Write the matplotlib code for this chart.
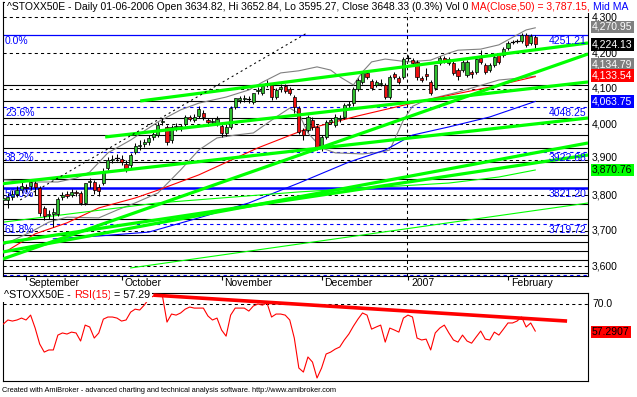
import matplotlib
matplotlib.use('Agg')
import matplotlib.pyplot as plt
from matplotlib.patches import Rectangle

plt.rcParams['font.family'] = ['Liberation Sans', 'DejaVu Sans']

W, H, DPI = 637, 397, 100
PX = 72.0 / DPI  # points per pixel

# ---------------- data ----------------
month_labels = ['September', 'October', 'November', 'December', '2007', 'February']
month_bars = [5, 26, 48, 70, 89, 111]
year_sep_bar = 89

opens = [3786, 3786, 3795, 3803, 3814, 3823, 3826, 3834, 3820, 3764,
         3744, 3747, 3747, 3795, 3803, 3800, 3809, 3806, 3778, 3837,
         3837, 3823, 3834, 3876, 3899, 3905, 3902, 3888, 3885, 3921,
         3938, 3944, 3950, 3964, 3969, 4006, 3992, 3955, 3992, 3995,
         4000, 4020, 4011, 4023, 4031, 4011, 4006, 4003, 3995, 3975,
         3992, 4048, 4068, 4071, 4071, 4062, 4093, 4088, 4113, 4110,
         4076, 4099, 4107, 4099, 4076, 4045, 3983, 3983, 4011, 3992,
         3936, 3964, 4006, 3997, 4014, 4020, 4054, 4059, 4099, 4118,
         4144, 4121, 4110, 4113, 4110, 4076, 4141, 4130, 4133, 4186,
         4180, 4175, 4130, 4141, 4118, 4101, 4172, 4186, 4172, 4172,
         4152, 4152, 4138, 4147, 4147, 4186, 4166, 4152, 4166, 4194,
         4194, 4214, 4231, 4234, 4234, 4251, 4228, 4245]
highs = [3803, 3806, 3814, 3826, 3837, 3831, 3843, 3840, 3826, 3769,
         3758, 3764, 3795, 3809, 3812, 3817, 3814, 3812, 3834, 3848,
         3843, 3831, 3876, 3907, 3913, 3916, 3913, 3899, 3919, 3947,
         3955, 3958, 3969, 3980, 4006, 4017, 3997, 3997, 4003, 4000,
         4026, 4026, 4028, 4051, 4040, 4017, 4017, 4023, 4003, 4000,
         4051, 4073, 4079, 4082, 4079, 4088, 4104, 4113, 4124, 4116,
         4101, 4113, 4113, 4104, 4082, 4051, 3989, 4026, 4020, 3997,
         3969, 4011, 4017, 4028, 4026, 4059, 4065, 4104, 4130, 4149,
         4152, 4127, 4124, 4127, 4116, 4138, 4147, 4135, 4189, 4194,
         4186, 4180, 4135, 4158, 4124, 4166, 4192, 4192, 4189, 4178,
         4158, 4180, 4180, 4152, 4189, 4209, 4172, 4172, 4194, 4200,
         4217, 4234, 4237, 4240, 4256, 4256, 4253, 4251]
lows = [3772, 3764, 3786, 3795, 3806, 3809, 3814, 3800, 3741, 3730,
        3733, 3710, 3741, 3786, 3792, 3795, 3798, 3772, 3772, 3820,
        3803, 3798, 3829, 3871, 3890, 3896, 3885, 3865, 3876, 3916,
        3927, 3935, 3941, 3955, 3964, 3997, 3941, 3947, 3981, 3981,
        3995, 4009, 4006, 4017, 4011, 3995, 3997, 3995, 3964, 3966,
        3986, 4042, 4059, 4062, 4059, 4057, 4085, 4082, 4104, 4068,
        4071, 4090, 4087, 4082, 4031, 3972, 3955, 3978, 3983, 3927,
        3924, 3958, 4000, 3992, 4006, 4014, 4045, 4051, 4093, 4113,
        4127, 4096, 4104, 4107, 4071, 4071, 4127, 4113, 4127, 4177,
        4166, 4124, 4118, 4124, 4082, 4096, 4166, 4172, 4166, 4138,
        4124, 4147, 4133, 4130, 4141, 4169, 4141, 4147, 4161, 4169,
        4189, 4209, 4225, 4228, 4228, 4217, 4223, 4214]
closes = [3792, 3795, 3803, 3814, 3826, 3820, 3837, 3823, 3750, 3741,
          3747, 3753, 3789, 3800, 3798, 3809, 3806, 3778, 3834, 3840,
          3814, 3812, 3868, 3899, 3902, 3905, 3893, 3876, 3913, 3938,
          3941, 3950, 3961, 3972, 3997, 4009, 3950, 3992, 3995, 3992,
          4020, 4014, 4020, 4042, 4020, 4006, 4009, 4014, 3975, 3992,
          4045, 4073, 4073, 4073, 4070, 4087, 4096, 4107, 4116, 4076,
          4096, 4104, 4093, 4088, 4048, 3978, 3969, 4020, 3992, 3936,
          3964, 4006, 4011, 4020, 4017, 4054, 4057, 4099, 4124, 4144,
          4133, 4102, 4118, 4116, 4076, 4133, 4133, 4118, 4183, 4186,
          4172, 4133, 4124, 4135, 4088, 4166, 4186, 4178, 4183, 4144,
          4135, 4175, 4175, 4141, 4183, 4175, 4147, 4166, 4189, 4175,
          4211, 4228, 4231, 4233, 4251, 4223, 4248, 4224.13]

ma50_bars = [0, 7, 14, 21, 29, 34, 43, 56, 66, 78, 93, 107, 117]
ma50_vals = [3637, 3691, 3722, 3764, 3792, 3814, 3857, 3933, 3983, 4023, 4068, 4104, 4133.54]

blue_bars = [11, 21, 32, 43, 54, 65, 76, 84, 90, 98, 107, 117]
blue_vals = [3677, 3685, 3696, 3736, 3778, 3834, 3893, 3927, 3969, 3992, 4020, 4063.75]

bb_up_bars = [0, 7, 12, 16, 19, 23, 28, 34, 39, 43, 49, 54, 57, 61, 65, 69, 72, 74, 77, 79,
              81, 84, 89, 94, 98, 100, 105, 109, 111, 115, 117]
bb_up_vals = [3843, 3837, 3837, 3848, 3865, 3919, 3955, 4006, 4040, 4059, 4076, 4096, 4118, 4144,
              4150, 4161, 4152, 4133, 4110, 4147, 4175, 4183, 4175, 4180, 4200, 4208, 4211, 4223,
              4237, 4265, 4270.95]

bb_lo_bars = [0, 6, 10, 14, 21, 25, 29, 34, 39, 43, 47, 51, 55, 60, 63, 65, 67, 70, 73, 79,
              83, 85, 88, 90, 93, 100, 109, 114, 117]
bb_lo_vals = [3660, 3696, 3724, 3738, 3736, 3758, 3778, 3806, 3871, 3927, 3961, 3969, 3975, 4020,
              4045, 4030, 3975, 3933, 3919, 3916, 3921, 3927, 4011, 4050, 4068, 4090, 4124, 4130,
              4134.79]

green_ma_bars = [0, 34, 65, 98, 109, 117]
green_ma_vals = [3724, 3778, 3809, 3834, 3851, 3870.76]

# trendlines (bar, price) -> (bar, price)
trend_x0 = [30.1, -0.7, -0.1, 22.4, -0.1, -0.1, 27.9]
trend_y0 = [4065.0, 3831.4, 3620.3, 3963.7, 3640.0, 3665.3, 3594.9]
trend_x1 = [128.6, 128.6, 128.6, 128.6, 128.6, 128.6, 128.6]
trend_y1 = [4228.2, 4017.1, 4197.3, 4118.5, 3946.8, 3913.0, 3777.9]
trend_w = [2.3, 2.3, 2.3, 2.3, 2.3, 2.3, 0.8]

diag_bars = [3.7, 66.8]
diag_vals = [3786.3, 4256.4]

level_lines = [4110.0, 4065.0, 4017.1, 3969.3, 3932.7, 3893.3, 3845.5, 3775.1,
               3732.8, 3687.8, 3668.1, 3642.8, 3617.5, 3580.9]
grid_levels = [3600, 3700, 3800, 3900, 4000, 4100, 4200, 4300]
grid_labels = ['3,600', '3,700', '3,800', '3,900', '4,000', '4,100', '4,200', '4,300']

fib_pct = ['0.0%', '23.6%', '38.2%', '50.0%', '61.8%']
fib_vals = [4251.21, 4048.25, 3922.68, 3821.21, 3719.72]
fib_texts = ['4251.21', '4048.25', '3922.68', '3821.20', '3719.72']
fib_style = ['solid', 'dashed', 'dashed', 'thick', 'dashed']
fib_bottom = 3574.0

value_boxes = [4270.95, 4224.13, 4134.79, 4133.54, 4063.75, 3870.76]
value_texts = ['4,270.95', '4,224.13', '4,134.79', '4,133.54', '4,063.75', '3,870.76']
value_fc = ['#808080', '#000000', '#808080', '#ff0000', '#0000ff', '#00ff00']
value_tc = ['white', 'white', 'white', 'white', 'white', 'black']
value_shift_px = [1, 0, 12, 1, 0, 0]

rsi = [60.6, 62.5, 62.0, 62.5, 63.4, 62.5, 64.8, 58.7, 51.2, 47.4,
       48.4, 48.4, 55.4, 56.4, 55.9, 56.8, 56.4, 52.6, 60.1, 59.2,
       54.0, 56.4, 62.9, 63.9, 63.9, 63.4, 62.0, 62.5, 66.2, 67.6,
       67.2, 69.5, 72.4, 73.8, 73.8, 73.8, 61.5, 65.3, 64.8, 65.8,
       67.6, 68.6, 68.1, 68.1, 68.1, 64.4, 62.5, 63.4, 57.8, 54.9,
       64.8, 68.1, 68.1, 68.1, 66.7, 69.1, 70.0, 69.5, 70.5, 63.9,
       65.3, 65.3, 64.8, 62.5, 54.0, 39.9, 38.0, 45.1, 42.7, 35.2,
       39.9, 46.5, 47.4, 48.8, 49.8, 53.1, 55.9, 59.6, 62.9, 65.8,
       64.8, 58.2, 59.2, 60.1, 52.1, 58.7, 57.8, 56.8, 63.4, 64.8,
       63.9, 54.0, 53.1, 53.5, 48.4, 56.4, 58.7, 60.1, 56.4, 53.1,
       52.1, 55.4, 52.6, 51.6, 54.5, 57.3, 53.5, 53.1, 56.8, 55.4,
       58.2, 61.1, 61.1, 62.0, 63.9, 59.2, 61.1, 57.29]
rsi_trend_bars = [33, 124]
rsi_trend_vals = [74.2, 62.0]
rsi_level = 70.0

# ---------------- figure ----------------
fig = plt.figure(figsize=(W / DPI, H / DPI), dpi=DPI, facecolor='white')


def fx(p):
    return p / W


def fy(p):
    return 1 - p / H


ax = fig.add_axes([fx(3), fy(276), fx(588) - fx(3), fy(2) - fy(276)])
ax2 = fig.add_axes([fx(3), fy(381), fx(588) - fx(3), fy(293) - fy(381)])

XL = (-0.07, 128.6)
for a in (ax, ax2):
    a.set_xlim(*XL)
    a.set_facecolor('white')
    for s in a.spines.values():
        s.set_color('black')
        s.set_linewidth(0.8)
    a.set_yticks([])
ax.set_ylim(3572.4, 4343.6)
ax2.set_ylim(33.8, 75.2)
ax2.set_xticks([])

# ticks on main x axis
ax.set_xticks(month_bars)
ax.tick_params(axis='x', direction='out', length=4 * PX, width=0.8, labelbottom=False)

dash = (0, (3, 3))
# grid
for g in grid_levels:
    ax.axhline(g, color='black', lw=0.75, ls=dash, zorder=1)
for lv in level_lines:
    ax.axhline(lv, color='black', lw=0.8, zorder=1)
ax.axvline(year_sep_bar - 0.3, color='black', lw=0.75, ls=dash, zorder=1)

# fib
for v, st in zip(fib_vals, fib_style):
    if st == 'solid':
        ax.axhline(v, color='#0000ff', lw=0.9, zorder=1.5)
    elif st == 'thick':
        ax.axhline(v, color='#0000ff', lw=1.8, zorder=1.5)
    else:
        ax.axhline(v, color='#0000ff', lw=0.8, ls=dash, zorder=1.5)
ax.axhline(fib_bottom, color='#0000ff', lw=0.8, ls=dash, zorder=1.5)

for p, v, t in zip(fib_pct, fib_vals, fib_texts):
    ax.annotate(p, xy=(0, v), xycoords=('axes fraction', 'data'), xytext=(2 * PX, -6 * PX),
                textcoords='offset points', ha='left', va='center', color='#0000ff',
                fontsize=7.5, zorder=6)
    ax.annotate(t, xy=(1, v), xycoords=('axes fraction', 'data'), xytext=(-1.5 * PX, -6 * PX),
                textcoords='offset points', ha='right', va='center', color='#0000ff',
                fontsize=7.5, zorder=6)

# indicator lines
ax.plot(bb_up_bars, bb_up_vals, color='#808080', lw=0.8, zorder=2)
ax.plot(bb_lo_bars, bb_lo_vals, color='#808080', lw=0.8, zorder=2)
ax.plot(ma50_bars, ma50_vals, color='#ff0000', lw=0.8, zorder=2)
ax.plot(blue_bars, blue_vals, color='#0000ff', lw=0.8, zorder=2)
ax.plot(green_ma_bars, green_ma_vals, color='#00ff00', lw=0.8, zorder=2)

# candles
for i, (o, h, l, c) in enumerate(zip(opens, highs, lows, closes)):
    ax.plot([i, i], [l, h], color='black', lw=0.75, zorder=3, solid_capstyle='butt')
    if abs(c - o) < 2.0:
        ax.plot([i - 0.35, i + 0.35], [c, c], color='black', lw=0.9, zorder=3.2)
    else:
        col = '#2fbf2f' if c > o else '#ee1111'
        ax.add_patch(Rectangle((i - 0.35, min(o, c)), 0.7, abs(c - o), facecolor=col,
                               edgecolor='black', lw=0.5, zorder=3.1))

# trendlines
for x0, y0, x1, y1, w in zip(trend_x0, trend_y0, trend_x1, trend_y1, trend_w):
    ax.plot([x0, x1], [y0, y1], color='#00ff00', lw=w, zorder=4, solid_capstyle='butt')
ax.plot(diag_bars, diag_vals, color='black', lw=0.75, ls=(0, (2, 3)), zorder=4)

# right price labels
for g, lab in zip(grid_levels, grid_labels):
    dy = 2 if g == 3900 else 0
    ax.annotate(lab, xy=(1, g), xycoords=('axes fraction', 'data'), xytext=(4 * PX, dy * PX),
                textcoords='offset points', ha='left', va='center', color='black',
                fontsize=7.5, annotation_clip=False)
for v, t, fc, tc, sh in zip(value_boxes, value_texts, value_fc, value_tc, value_shift_px):
    ax.annotate(t, xy=(1, v), xycoords=('axes fraction', 'data'), xytext=(4 * PX, sh * PX),
                textcoords='offset points', ha='left', va='center', color=tc, fontsize=7.5,
                annotation_clip=False, zorder=7,
                bbox=dict(boxstyle='square,pad=0.12', fc=fc, ec='none'))

# month labels
for b, lab in zip(month_bars, month_labels):
    ax.annotate(lab, xy=(b, 0), xycoords=('data', 'axes fraction'), xytext=(3 * PX, -7.5 * PX),
                textcoords='offset points', ha='left', va='center', fontsize=7.5,
                annotation_clip=False)

# RSI panel
ax2.plot(range(len(rsi)), rsi, color='#ff0000', lw=0.8, zorder=3)
ax2.plot(rsi_trend_bars, rsi_trend_vals, color='#ff0000', lw=2.6, zorder=3, solid_capstyle='butt')
ax2.axhline(rsi_level, color='black', lw=0.75, ls=dash, zorder=2)
ax2.annotate('70.0', xy=(1, rsi_level), xycoords=('axes fraction', 'data'), xytext=(4 * PX, 0),
             textcoords='offset points', ha='left', va='center', fontsize=7.5,
             annotation_clip=False)
ax2.annotate('57.2907', xy=(1, rsi[-1]), xycoords=('axes fraction', 'data'),
             xytext=(4 * PX, -1 * PX), textcoords='offset points', ha='left', va='center',
             fontsize=7.5, color='black', annotation_clip=False,
             bbox=dict(boxstyle='square,pad=0.12', fc='#ff0000', ec='none'))

# multi-coloured headers
renderer = fig.canvas.get_renderer()


def rich_text(x_px, y_px, parts, size):
    x = x_px
    for s, col in parts:
        t = fig.text(fx(x), fy(y_px), s, color=col, fontsize=size, ha='left', va='center',
                     zorder=10, bbox=dict(boxstyle='square,pad=0.15', fc='white', ec='none'))
        bb = t.get_window_extent(renderer=renderer)
        x += bb.width


rich_text(7, 6.5, [("^STOXX50E - Daily 01-06-2006 Open 3634.82, Hi 3652.84, Lo 3595.27, "
                    "Close 3648.33 (0.3%) Vol 0 ", 'black'),
                   ("MA(Close,50) = 3,787.15, ", '#ff0000'),
                   ("Mid MA", '#0000ff')], 7.5)
rich_text(4, 295.5, [("^STOXX50E - ", 'black'), ("RSI(15)", '#ff0000'), (" = 57.29", 'black')], 7.75)

fig.text(fx(2), fy(390), "Created with AmiBroker - advanced charting and technical analysis "
         "software. http://www.amibroker.com", fontsize=5.3, ha='left', va='center',
         color='black')

fig.savefig('out.png', dpi=DPI, facecolor='white')
